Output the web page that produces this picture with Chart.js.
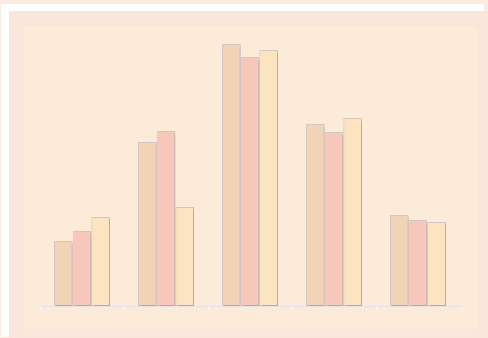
<!DOCTYPE html>
<html>
<head>
<meta charset="utf-8">
<script src="https://cdn.jsdelivr.net/npm/chart.js@4/dist/chart.umd.min.js"></script>
<style>
  html, body { margin: 0; padding: 0; }
  body { width: 488px; height: 338px; background: #fcebe1; position: relative; overflow: hidden; }
  .frame { position: absolute; left: 1px; top: 4px; width: 483px; height: 333px; background: #ffffff; }
  .panel { position: absolute; left: 9px; top: 11px; width: 479px; height: 327px; background: #fae6da; }
  .plot { position: absolute; left: 24px; top: 26px; width: 453px; height: 303px; background: #fdebd9; }
  #wrap { position: absolute; left: 0; top: 0; width: 488px; height: 338px; filter: blur(0.6px); }
</style>
</head>
<body>
<div class="frame"></div>
<div class="panel"></div>
<div class="plot"></div>
<div id="wrap"><canvas id="chart" width="488" height="338"></canvas></div>
<script>
// Five categories, three series each
const categories = ['A', 'B', 'C', 'D', 'E'];
const seriesOne   = [23.2, 58.6, 93.6, 65.0, 32.5];
const seriesTwo   = [26.8, 62.5, 88.9, 62.1, 30.7];
const seriesThree = [31.8, 35.4, 91.4, 67.1, 30.0];

const fills = ['#f3d3b6', '#f8c7bb', '#fde4c0'];

// Soft drop shadow under the bars
const barShadow = {
  id: 'barShadow',
  beforeDatasetsDraw(chart) {
    const ctx = chart.ctx;
    ctx.save();
    ctx.shadowColor = 'rgba(90, 90, 110, 0.3)';
    ctx.shadowBlur = 2;
    ctx.shadowOffsetX = 1.5;
    ctx.shadowOffsetY = 1.5;
  },
  afterDatasetsDraw(chart) {
    chart.ctx.restore();
  }
};

const makeSet = (data, i) => ({
  data,
  backgroundColor: fills[i],
  borderColor: 'rgba(175, 170, 180, 0.5)',
  borderWidth: 1,
  borderSkipped: false,
  categoryPercentage: 0.667,
  barPercentage: 1.0
});

new Chart(document.getElementById('chart'), {
  type: 'bar',
  data: {
    labels: categories,
    datasets: [makeSet(seriesOne, 0), makeSet(seriesTwo, 1), makeSet(seriesThree, 2)]
  },
  options: {
    responsive: false,
    animation: false,
    layout: { padding: { left: 40, right: 28, top: 26, bottom: 29 } },
    plugins: { legend: { display: false }, tooltip: { enabled: false } },
    scales: {
      x: {
        offset: true,
        grid: {
          offset: true,
          drawOnChartArea: false,
          drawTicks: true,
          tickLength: 3,
          color: 'rgba(255, 255, 255, 0.9)'
        },
        border: { display: true, color: '#e4e2ee', width: 1 },
        ticks: { display: false }
      },
      y: {
        display: false,
        min: 0,
        max: 100
      }
    }
  },
  plugins: [barShadow]
});
</script>
</body>
</html>
